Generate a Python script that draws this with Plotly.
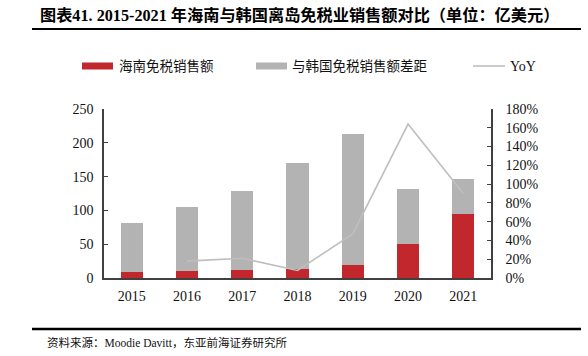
import plotly.graph_objects as go

years = ["2015", "2016", "2017", "2018", "2019", "2020", "2021"]
hainan = [9, 10, 12, 14, 19, 50, 95]            # 海南免税销售额 (亿美元)
korea_total = [81, 105, 128, 170, 213, 132, 147]
gap = [k - h for k, h in zip(korea_total, hainan)]  # 与韩国免税销售额差距
yoy = [None, 0.18, 0.21, 0.08, 0.47, 1.64, 0.90]

W, H = 588, 356
L, R, T, B = 104, 97, 109, 78
PW, PH = W - L - R, H - T - B

def px(x):
    return (x - L) / PW

def py(y):
    return (H - B - y) / PH

SERIF = "Liberation Serif, Noto Sans CJK SC, serif"
RED = "#C1272D"
GRAY = "#B3B3B3"
LINE = "#BEBEBE"
AX = "#404040"

fig = go.Figure()
fig.add_trace(go.Bar(x=years, y=hainan, name="海南免税销售额", marker_color=RED,
                     marker_line_width=0, yaxis="y"))
fig.add_trace(go.Bar(x=years, y=gap, name="与韩国免税销售额差距", marker_color=GRAY,
                     marker_line_width=0, yaxis="y"))
fig.add_trace(go.Scatter(x=years, y=yoy, name="YoY", mode="lines",
                         line=dict(color=LINE, width=1.6), yaxis="y2"))

fig.update_layout(
    width=W, height=H,
    margin=dict(l=L, r=R, t=T, b=B),
    paper_bgcolor="white", plot_bgcolor="white",
    barmode="stack", bargap=0.6,
    showlegend=False,
    font=dict(family=SERIF, size=14, color="#111111"),
    xaxis=dict(showline=True, linecolor=AX, linewidth=1.6, ticks="",
               showgrid=False, tickfont=dict(size=14), ticklabelstandoff=4),
    yaxis=dict(range=[0, 250], dtick=50, showline=True, linecolor=AX, linewidth=1.6,
               ticks="inside", ticklen=4, tickcolor=AX, tickwidth=1.4,
               showgrid=False, zeroline=False, tickfont=dict(size=14),
               ticklabelstandoff=6),
    yaxis2=dict(range=[0, 1.8], dtick=0.2, tickformat=".0%", overlaying="y", side="right",
                showline=True, linecolor=AX, linewidth=1.6,
                ticks="inside", ticklen=4, tickcolor=AX, tickwidth=1.4,
                showgrid=False, zeroline=False, tickfont=dict(size=14),
                ticklabelstandoff=10),
)

shapes = []
annotations = []

# title + underline
annotations.append(dict(text="<b>图表41. 2015-2021 年海南与韩国离岛免税业销售额对比（单位：亿美元）</b>",
                        x=px(38), y=py(15), xref="paper", yref="paper",
                        xanchor="left", yanchor="middle", showarrow=False,
                        font=dict(family=SERIF, size=16.2, color="#000000")))
shapes.append(dict(type="line", xref="paper", yref="paper", x0=px(32), x1=px(581),
                   y0=py(29), y1=py(29), line=dict(color="#000000", width=2)))

# legend
ly = 66
shapes.append(dict(type="rect", xref="paper", yref="paper", x0=px(82), x1=px(113),
                   y0=py(ly - 3.5), y1=py(ly + 3.5), fillcolor=RED, line=dict(width=0)))
annotations.append(dict(text="海南免税销售额", x=px(117), y=py(ly), xref="paper", yref="paper",
                        xanchor="left", yanchor="middle", showarrow=False,
                        font=dict(size=13.5)))
shapes.append(dict(type="rect", xref="paper", yref="paper", x0=px(256), x1=px(287),
                   y0=py(ly - 3.5), y1=py(ly + 3.5), fillcolor=GRAY, line=dict(width=0)))
annotations.append(dict(text="与韩国免税销售额差距", x=px(290), y=py(ly), xref="paper", yref="paper",
                        xanchor="left", yanchor="middle", showarrow=False,
                        font=dict(size=13.5)))
shapes.append(dict(type="line", xref="paper", yref="paper", x0=px(473), x1=px(505),
                   y0=py(ly), y1=py(ly), line=dict(color=LINE, width=1.6)))
annotations.append(dict(text="YoY", x=px(508), y=py(ly), xref="paper", yref="paper",
                        xanchor="left", yanchor="middle", showarrow=False,
                        font=dict(size=14)))

# footer
shapes.append(dict(type="line", xref="paper", yref="paper", x0=px(32), x1=px(581),
                   y0=py(329), y1=py(329), line=dict(color="#000000", width=2.5)))
annotations.append(dict(text="资料来源：Moodie Davitt，东亚前海证券研究所", x=px(45), y=py(342),
                        xref="paper", yref="paper", xanchor="left", yanchor="middle",
                        showarrow=False, font=dict(size=11.5)))

fig.update_layout(shapes=shapes, annotations=annotations)
fig.write_html("out.html", config={"displayModeBar": False},
               post_script="document.body.style.margin='0';document.body.style.padding='0';")
